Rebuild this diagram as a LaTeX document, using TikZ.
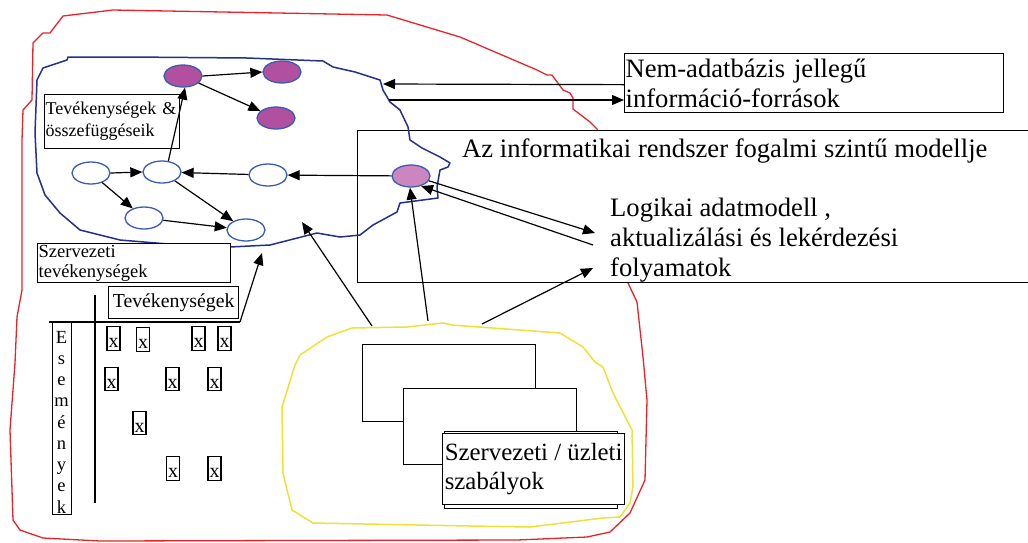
\documentclass[tikz,border=0pt]{standalone}
\usepackage{fontspec}
\setmainfont{Liberation Serif}
\usetikzlibrary{arrows.meta,shapes.geometric}

\definecolor{outerred}{HTML}{E8232B}
\definecolor{rulesyellow}{HTML}{F0E038}
\definecolor{blobnavy}{HTML}{24308A}
\definecolor{ovalblue}{HTML}{3A5CB4}
\definecolor{darkpurple}{HTML}{B0509F}
\definecolor{lightpurple}{HTML}{CC86BF}

\newcommand\setfs[2]{\fontsize{#1}{#2}\selectfont}

\begin{document}
\begin{tikzpicture}[x=1pt,y=-1pt,
  box/.style={draw, line width=1.3pt, fill=white, inner ysep=0pt, inner xsep=1pt},
  arr/.style={draw, line width=1.2pt, -{Triangle[length=12pt,width=10pt]}},
  ovl/.style={ellipse, draw=ovalblue, line width=1.3pt, minimum width=38pt, minimum height=22pt, inner sep=0pt},
  dark/.style={ovl, fill=darkpurple},
  light/.style={ovl, fill=lightpurple},
  hollow/.style={ovl, fill=white},
  xbox/.style={draw, line width=1.1pt, fill=white, inner sep=0pt, minimum width=13pt,
    text height=21pt, text depth=2.5pt, font=\setfs{20}{22}},
  sheet/.style={draw, line width=1.3pt, fill=white},
  bigtext/.style={font=\setfs{26.6}{30}, inner sep=0pt, align=left},
]
\useasboundingbox (0,0) rectangle (1028,542);
\fill[white] (0,0) rectangle (1028,542);

% outer boundary of the organisation (red)
\draw[outerred, line width=1.3pt, line join=round]
  (33,43) -- (43,33) -- (50,33) -- (63,16) -- (113,10) -- (387,15) -- (460,37)
  -- (537,70) -- (547,75) -- (552,75) -- (563,90) -- (570,93) -- (573,98)
  -- (573,109) -- (590,122) -- (597,129) -- (612,200) -- (628,283) -- (637,302)
  -- (643,357) -- (647,400) -- (645,480) -- (630,513) -- (610,532) -- (587,537)
  -- (517,540) -- (300,540.5) -- (100,541) -- (43,538) -- (20,530) -- (13,520)
  -- (10,430) -- (15,363) -- (17,317) -- (22,290) -- (22,230) -- (22,140)
  -- (23,110) -- (32,100) -- cycle;

% business rules area (yellow)
\draw[rulesyellow, line width=1.5pt, line join=round]
  (352,328) -- (407,327) -- (443,323) -- (452,325) -- (560,333) -- (583,347)
  -- (595,362) -- (603,367) -- (613,393) -- (632,430) -- (633,487) -- (630,503)
  -- (620,517) -- (603,518) -- (530,527) -- (470,526) -- (313,523) -- (292,510)
  -- (283,473) -- (282,407) -- (295,365) -- (300,355) -- (327,337) -- cycle;
\coordinate (ya) at (372,326);
\coordinate (yb) at (428,321);
\coordinate (yc) at (482,324);

% conceptual model frame
\node[draw, line width=1.3pt, fill=white, anchor=north west, minimum width=674pt,
  minimum height=152pt, inner sep=0pt] (model) at (357,130) {};
\node[bigtext, anchor=base west] (modeltitle) at (462,157)
  {Az informatikai rendszer fogalmi szintű modellje};
\node[bigtext, anchor=base west] (logical) at (610,276)
  {Logikai adatmodell ,\\aktualizálási és lekérdezési\\folyamatok};

% non-database information sources
\node[box, anchor=north west, text width=377pt, minimum height=59pt, align=left,
  font=\setfs{26.6}{30}] (sources) at (624,53)
  {Nem-adatbázis jellegű\\információ-források};

% activities and their relations (navy)
\draw[blobnavy, line width=1.5pt, line join=round]
  (37,80) -- (43,68) -- (67,60) -- (68,57) -- (130,57) -- (247,58) -- (323,61)
  -- (333,67) -- (355,72) -- (380,80) -- (383,90) -- (390,102) -- (400,110)
  -- (408,127) -- (410,140) -- (422,148) -- (440,157) -- (450,163) -- (448,167)
  -- (440,170) -- (437,187) -- (438,198) -- (400,203) -- (397,212) -- (373,225)
  -- (360,235) -- (340,237) -- (317,233) -- (270,245) -- (230,247) -- (180,245)
  -- (120,240) -- (80,230) -- (60,213) -- (45,195) -- (37,173) -- (35,133) -- cycle;
\coordinate (blobin) at (383,84);
\coordinate (blobout) at (389,100);
\coordinate (blobfoot) at (302,222);
\coordinate (blobbelow) at (262,253);

\node[box, anchor=north west, text width=133pt, minimum height=54pt, align=left,
  font=\setfs{18}{22}] (actrel) at (44,94) {Tevékenységek \&\\összefüggéseik};

\node[dark] (p1) at (183,76) {};
\node[dark] (p2) at (282,72) {};
\node[dark] (p3) at (276,118) {};
\node[hollow] (a) at (91,173) {};
\node[hollow] (b) at (162,172) {};
\node[hollow] (c) at (268,175) {};
\node[hollow] (d) at (144,218) {};
\node[hollow] (e) at (246,230) {};
\node[light] (lp) at (411,176) {};

% activity / event matrix
\node[box, anchor=north west, text width=191pt, minimum height=39pt, align=left,
  font=\setfs{18.5}{19.5}] (orgact) at (37,243) {Szervezeti\\tevékenységek};
\node[box, anchor=north west, minimum width=130pt, minimum height=32pt,
  font=\setfs{19.8}{22}] (acts) at (108,286) {Tevékenységek};
\coordinate (hl) at (49,322);
\coordinate (hr) at (240,322);
\coordinate (vt) at (95,295);
\coordinate (vb) at (95,503);
\draw[line width=1.2pt] (hl) -- (hr);
\draw[line width=1.2pt] (vt) -- (vb);

\node[draw, line width=1.2pt, anchor=north west, minimum width=19pt,
  minimum height=192pt, inner sep=0pt] (evbox) at (52,322) {};
\node[anchor=base, inner sep=0pt, align=center, font=\setfs{18.5}{21.25}] (evtext) at (61.5,513)
  {E\\s\\e\\m\\é\\n\\y\\e\\k};

\node[xbox] (x11) at (113.5,338.5) {x};
\node[xbox] (x12) at (143,339.5) {x};
\node[xbox] (x13) at (198.5,338.5) {x};
\node[xbox] (x14) at (224.5,338.5) {x};
\node[xbox] (x21) at (111.5,379) {x};
\node[xbox] (x22) at (172.5,379) {x};
\node[xbox] (x23) at (214.5,379) {x};
\node[xbox] (x31) at (139.5,423) {x};
\node[xbox] (x41) at (173,468.5) {x};
\node[xbox] (x42) at (214.5,468.5) {x};

% stacked rule sheets
\node[sheet, anchor=north west, minimum width=173pt, minimum height=77pt, inner sep=0pt] (s1) at (362,344) {};
\node[sheet, anchor=north west, minimum width=173pt, minimum height=76pt, inner sep=0pt] (s2) at (403,388) {};
\node[sheet, anchor=north west, minimum width=173pt, minimum height=77pt, inner sep=0pt] (s3) at (444,431) {};
\node[sheet, anchor=north west, minimum width=182pt, minimum height=71pt, inner sep=0pt,
  align=left, font=\setfs{24.8}{29}] (rules) at (442,433)
  {Szervezeti / üzleti\\szabályok};

% connectors
\draw[arr] (p1.east) -- (p2.west);
\draw[arr] (p1) -- (p3);
\draw[arr] (b.60) -- (p1.-80);
\draw[arr] (a.east) -- (b.west);
\draw[arr] (a) -- (d);
\draw[arr] (d) -- (e);
\draw[arr] (b) -- (e);
\draw[arr] (c) -- (b);
\draw[arr] (lp) -- (c);
\draw[arr] ([yshift=-1.5pt]sources.west) -- (blobin);
\draw[arr] (blobout) -- (sources.west |- blobout);
\coordinate (lg1) at (595,233);
\coordinate (lg2) at (593,245);
\coordinate (lg3) at (593,268);
\draw[arr] (lp.-15) -- (lg1);
\draw[arr] (lg2) -- (lp.-45);
\draw[arr] (yb) -- (lp.-95);
\draw[arr] (yc) -- (lg3);
\draw[arr] (ya) -- (blobfoot);
\draw[arr] (hr) -- (blobbelow);
\end{tikzpicture}
\end{document}
